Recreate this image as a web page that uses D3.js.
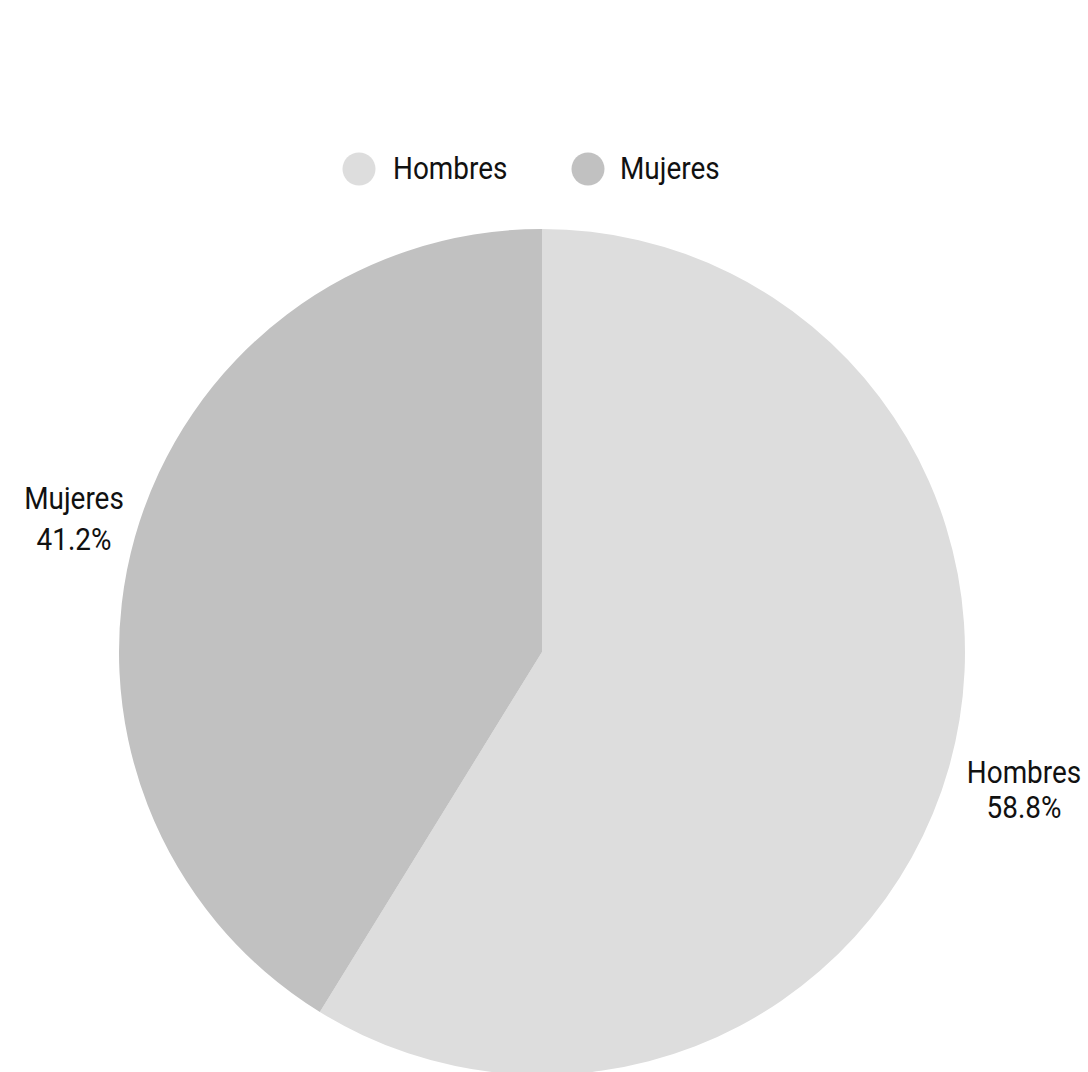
<!DOCTYPE html>
<html>
<head>
<meta charset="utf-8">
<script src="https://cdn.jsdelivr.net/npm/d3@7"></script>
<style>
  html, body { margin: 0; padding: 0; background: #fff; }
  svg { display: block; }
  text { font-family: Roboto, "Liberation Sans", sans-serif; fill: #111; }
</style>
</head>
<body>
<svg id="chart" width="1088" height="1072"></svg>
<script>
const categories = ["Hombres", "Mujeres"];
const values = [58.8, 41.2];
const colors = ["#dddddd", "#c1c1c1"];

const W = 1088, H = 1072;
const cx = 542, cy = 652, R = 423;
const fontSize = 31, squeeze = 0.9;

const svg = d3.select("#chart");
const color = d3.scaleOrdinal().domain(categories).range(colors);
const data = categories.map((c, i) => ({ name: c, value: values[i] }));

const pie = d3.pie().value(d => d.value).sort(null);
const arc = d3.arc().innerRadius(0).outerRadius(R);
const arcs = pie(data);

const g = svg.append("g").attr("transform", `translate(${cx},${cy})`);
g.selectAll("path").data(arcs).join("path")
  .attr("d", arc)
  .attr("fill", d => color(d.data.name));

// outside labels
const labelPos = { "Hombres": [1024, 783, 35], "Mujeres": [74, 509, 41] };
arcs.forEach(d => {
  const p = labelPos[d.data.name];
  const t = svg.append("text")
    .attr("text-anchor", "middle")
    .attr("font-size", fontSize)
    .attr("transform", `translate(${p[0]},${p[1]}) scale(${squeeze},1)`);
  t.append("tspan").attr("x", 0).attr("y", 0).text(d.data.name);
  t.append("tspan").attr("x", 0).attr("y", p[2]).text(d3.format(".1f")(d.data.value) + "%");
});

// legend
const legendItems = [
  { name: "Hombres", cx: 359, tx: 393 },
  { name: "Mujeres", cx: 588, tx: 620 }
];
const lg = svg.append("g");
legendItems.forEach(item => {
  lg.append("circle").attr("cx", item.cx).attr("cy", 169).attr("r", 16.5)
    .attr("fill", color(item.name));
  lg.append("text")
    .attr("font-size", fontSize)
    .attr("transform", `translate(${item.tx},179) scale(${squeeze},1)`)
    .text(item.name);
});
</script>
</body>
</html>
